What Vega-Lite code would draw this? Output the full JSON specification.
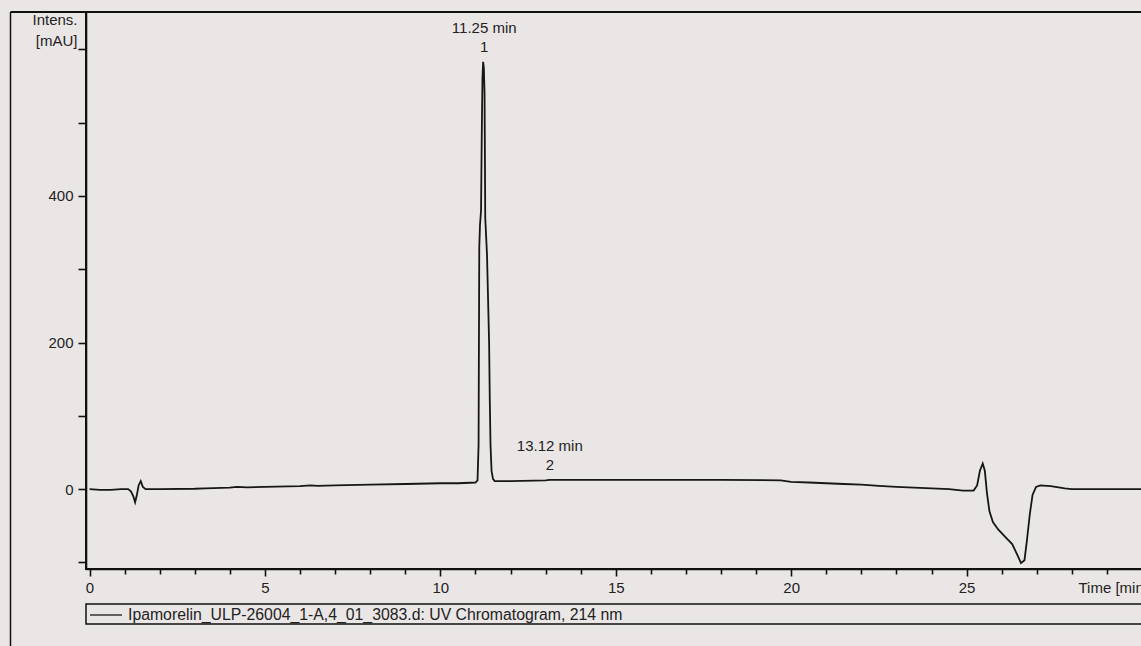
{
  "$schema": "https://vega.github.io/schema/vega-lite/v6.json",
  "width": 1056,
  "height": 557,
  "autosize": {"type": "none"},
  "padding": {"left": 86, "top": 12, "right": 0, "bottom": 77},
  "background": "#ebe6e6",
  "config": {
    "view": {"stroke": "#111111", "strokeWidth": 2},
    "font": "Liberation Sans",
    "axis": {
      "grid": false,
      "domainColor": "#111111",
      "domainWidth": 1.6,
      "tickColor": "#111111",
      "tickWidth": 1.6,
      "labelColor": "#222222",
      "titleColor": "#222222",
      "labelFontSize": 15,
      "titleFontSize": 15,
      "titleFontWeight": "normal",
      "labelFlush": false
    }
  },
  "resolve": {"axis": {"x": "independent"}},
  "datasets": {
    "trace": [
      {"time": 0.0, "intensity": 0},
      {"time": 0.3, "intensity": -1},
      {"time": 0.6, "intensity": -1},
      {"time": 0.9, "intensity": 0},
      {"time": 1.1, "intensity": 0},
      {"time": 1.18, "intensity": -3},
      {"time": 1.25, "intensity": -10},
      {"time": 1.3, "intensity": -18},
      {"time": 1.35, "intensity": -8},
      {"time": 1.4, "intensity": 5},
      {"time": 1.46, "intensity": 11},
      {"time": 1.52, "intensity": 3},
      {"time": 1.6, "intensity": 0},
      {"time": 2.0, "intensity": 0},
      {"time": 3.0, "intensity": 0.5},
      {"time": 3.3, "intensity": 1},
      {"time": 4.0, "intensity": 2},
      {"time": 4.2, "intensity": 3},
      {"time": 4.5, "intensity": 2.5},
      {"time": 5.0, "intensity": 3},
      {"time": 6.0, "intensity": 4},
      {"time": 6.3, "intensity": 5},
      {"time": 6.5, "intensity": 4.5},
      {"time": 7.0, "intensity": 5},
      {"time": 8.0, "intensity": 6},
      {"time": 9.0, "intensity": 7},
      {"time": 10.0, "intensity": 8},
      {"time": 10.5, "intensity": 8},
      {"time": 11.0, "intensity": 9},
      {"time": 11.06, "intensity": 12},
      {"time": 11.09, "intensity": 60},
      {"time": 11.1, "intensity": 200},
      {"time": 11.11, "intensity": 330},
      {"time": 11.13, "intensity": 360},
      {"time": 11.16, "intensity": 380},
      {"time": 11.18, "intensity": 480},
      {"time": 11.2, "intensity": 560},
      {"time": 11.22, "intensity": 583},
      {"time": 11.24, "intensity": 575},
      {"time": 11.26, "intensity": 540},
      {"time": 11.27, "intensity": 460},
      {"time": 11.28, "intensity": 370},
      {"time": 11.3, "intensity": 350},
      {"time": 11.33, "intensity": 320},
      {"time": 11.36, "intensity": 260},
      {"time": 11.39, "intensity": 200},
      {"time": 11.41, "intensity": 120},
      {"time": 11.43, "intensity": 60},
      {"time": 11.46, "intensity": 25},
      {"time": 11.5, "intensity": 14},
      {"time": 11.55, "intensity": 11},
      {"time": 12.0, "intensity": 11},
      {"time": 13.0, "intensity": 12},
      {"time": 13.12, "intensity": 12.5},
      {"time": 14.0, "intensity": 12.5},
      {"time": 16.0, "intensity": 12.5},
      {"time": 18.0, "intensity": 12.5},
      {"time": 19.7, "intensity": 12},
      {"time": 20.0, "intensity": 10},
      {"time": 20.5, "intensity": 9},
      {"time": 21.0, "intensity": 8},
      {"time": 21.5, "intensity": 7},
      {"time": 22.0, "intensity": 6},
      {"time": 22.5, "intensity": 4.5},
      {"time": 23.0, "intensity": 3},
      {"time": 23.5, "intensity": 2},
      {"time": 24.0, "intensity": 1},
      {"time": 24.5, "intensity": 0},
      {"time": 24.9, "intensity": -2},
      {"time": 25.2, "intensity": -2},
      {"time": 25.3, "intensity": 5},
      {"time": 25.38, "intensity": 25},
      {"time": 25.46, "intensity": 35},
      {"time": 25.52, "intensity": 25},
      {"time": 25.58, "intensity": -5},
      {"time": 25.65, "intensity": -30},
      {"time": 25.75, "intensity": -45},
      {"time": 25.9, "intensity": -55},
      {"time": 26.1, "intensity": -65},
      {"time": 26.3, "intensity": -75},
      {"time": 26.45, "intensity": -90},
      {"time": 26.55, "intensity": -101},
      {"time": 26.65, "intensity": -97},
      {"time": 26.72, "intensity": -70},
      {"time": 26.8, "intensity": -35},
      {"time": 26.88, "intensity": -8},
      {"time": 26.98, "intensity": 3},
      {"time": 27.1, "intensity": 5},
      {"time": 27.4, "intensity": 4},
      {"time": 27.8, "intensity": 1},
      {"time": 28.0, "intensity": 0},
      {"time": 29.0, "intensity": 0},
      {"time": 30.0, "intensity": 0}
    ],
    "peaks": [
      {"time": 11.25, "intensity": 583, "rt": "11.25 min", "peak": "1"},
      {"time": 13.12, "intensity": 12.5, "rt": "13.12 min", "peak": "2"}
    ]
  },
  "layer": [
    {
      "data": {"name": "trace"},
      "mark": {"type": "line", "strokeWidth": 1.8, "interpolate": "linear"},
      "encoding": {
        "x": {
          "field": "time",
          "type": "quantitative",
          "scale": {"domain": [-0.1, 30], "nice": false, "zero": false},
          "axis": {
            "orient": "bottom",
            "values": [0, 5, 10, 15, 20, 25],
            "labelOverlap": false,
            "tickSize": 7,
            "labelPadding": 4,
            "title": "Time [min]",
            "titleAlign": "left",
            "titleBaseline": "middle",
            "titleX": 992,
            "titleY": 18
          }
        },
        "y": {
          "field": "intensity",
          "type": "quantitative",
          "scale": {"domain": [-109, 651], "nice": false, "zero": false},
          "axis": {
            "values": [-100, 0, 100, 200, 300, 400, 500, 600],
            "labelExpr": "datum.value === 0 || datum.value === 200 || datum.value === 400 ? datum.label : ''",
            "labelOverlap": false,
            "tickSize": 8,
            "labelPadding": 5,
            "title": ["Intens.", "[mAU]"],
            "titleAngle": 0,
            "titleAlign": "right",
            "titleBaseline": "top",
            "titleX": -9,
            "titleY": 0,
            "titleLineHeight": 21
          }
        },
        "color": {
          "datum": "Ipamorelin_ULP-26004_1-A,4_01_3083.d: UV Chromatogram, 214 nm",
          "type": "nominal",
          "scale": {"range": ["#161616"]},
          "legend": {
            "orient": "none",
            "legendX": 0,
            "legendY": 583,
            "title": null,
            "padding": 3,
            "symbolType": "stroke",
            "symbolSize": 1024,
            "symbolStrokeWidth": 1.3,
            "labelFontSize": 15.8,
            "labelColor": "#222222",
            "labelOffset": 5,
            "labelLimit": 2000
          }
        }
      }
    },
    {
      "data": {"name": "peaks"},
      "mark": {"type": "text", "dy": -34, "fontSize": 15, "color": "#222222", "baseline": "middle"},
      "encoding": {
        "x": {
          "field": "time",
          "type": "quantitative",
          "axis": {
            "orient": "bottom",
            "values": [1,2,3,4,6,7,8,9,11,12,13,14,16,17,18,19,21,22,23,24,26,27,28,29,30],
            "labels": false,
            "domain": false,
            "tickSize": 5,
            "title": null
          }
        },
        "y": {"field": "intensity", "type": "quantitative"},
        "text": {"field": "rt"}
      }
    },
    {
      "data": {"name": "peaks"},
      "mark": {"type": "text", "dy": -15, "fontSize": 15, "color": "#222222", "baseline": "middle"},
      "encoding": {
        "x": {"field": "time", "type": "quantitative", "axis": null},
        "y": {"field": "intensity", "type": "quantitative"},
        "text": {"field": "peak"}
      }
    },
    {
      "data": {"values": [{}]},
      "mark": {"type": "rect", "clip": false, "fill": null, "fillOpacity": 0, "stroke": "#111111", "strokeWidth": 1.5},
      "encoding": {
        "x": {"datum": -0.1, "axis": null},
        "x2": {"datum": 30.6},
        "y": {"datum": -156.8},
        "y2": {"datum": -184.1}
      }
    },
    {
      "data": {"values": [{}]},
      "mark": {"type": "rule", "clip": false, "color": "#111111", "strokeWidth": 1.5},
      "encoding": {
        "x": {"datum": -2.252, "axis": null},
        "y": {"datum": 651},
        "y2": {"datum": -300}
      }
    },
    {
      "data": {"values": [{}]},
      "mark": {"type": "rule", "clip": false, "color": "#111111", "strokeWidth": 2},
      "encoding": {
        "x": {"datum": -2.252, "axis": null},
        "x2": {"datum": -0.1},
        "y": {"datum": 651}
      }
    }
  ]
}
